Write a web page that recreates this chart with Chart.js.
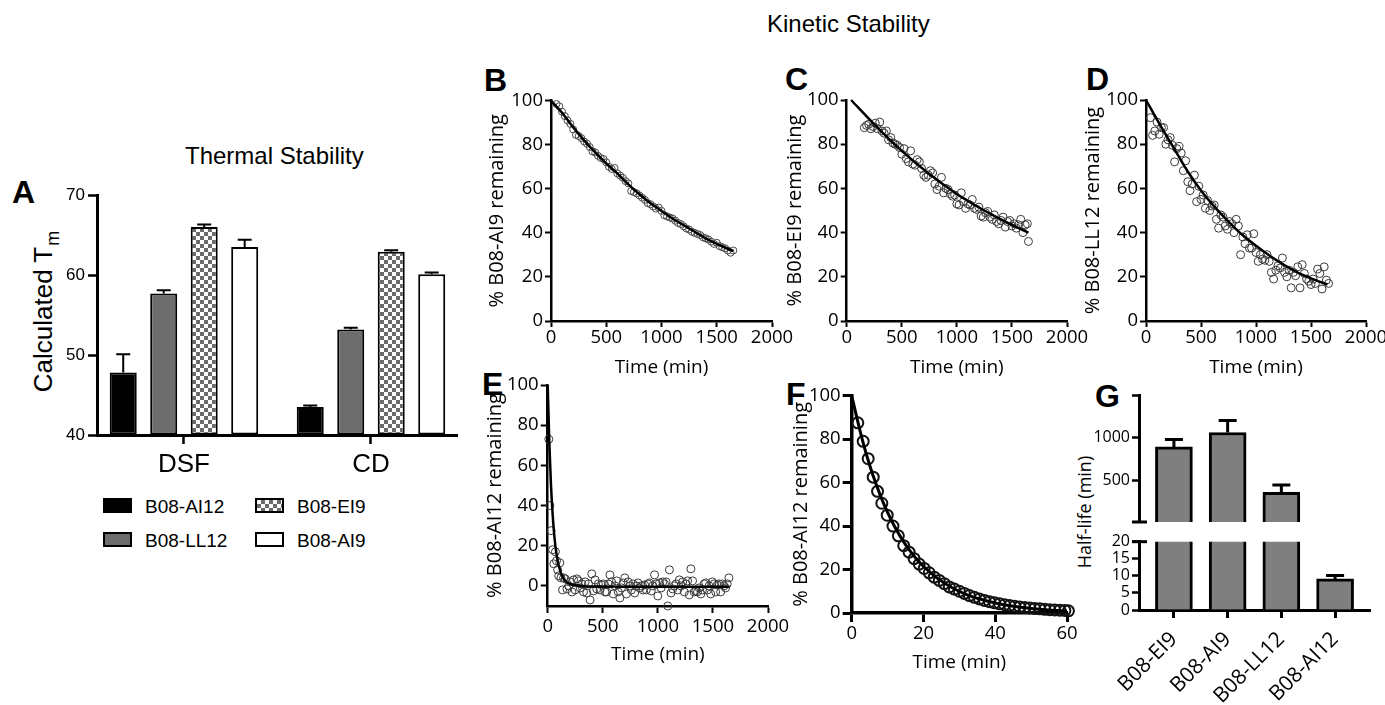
<!DOCTYPE html>
<html><head><meta charset="utf-8">
<script src="https://cdn.jsdelivr.net/npm/chart.js@4.4.1/dist/chart.umd.min.js"></script>
<style>
html,body{margin:0;padding:0;background:#fff;}
body{width:1385px;height:705px;position:relative;overflow:hidden;font-family:"Liberation Sans",Arial,sans-serif;color:#000;}
.t{position:absolute;white-space:nowrap;line-height:1;}
.letter{font-weight:bold;font-size:32px;}
canvas{position:absolute;}
.rot{position:absolute;white-space:nowrap;line-height:1;transform:translate(-50%,-50%) rotate(-90deg);}
.lg{position:absolute;font-size:19px;line-height:1;white-space:nowrap;}
.sw{position:absolute;box-sizing:border-box;border:2px solid #000;width:29px;height:15px;}
</style></head><body>
<div class="t letter" style="left:12px;top:176px">A</div>
<div class="t letter" style="left:484px;top:64px">B</div>
<div class="t letter" style="left:785px;top:63px">C</div>
<div class="t letter" style="left:1086px;top:63px">D</div>
<div class="t letter" style="left:482px;top:368px">E</div>
<div class="t letter" style="left:786px;top:378px">F</div>
<div class="t letter" style="left:1095px;top:380px">G</div>
<div class="t" style="left:185px;top:144px;font-size:24px">Thermal Stability</div>
<div class="t" style="left:767px;top:12px;font-size:24px">Kinetic Stability</div>
<div class="rot" style="left:43px;top:312px;font-size:26px">Calculated T<span style="font-size:18px;position:relative;top:7px;left:1px">m</span></div>
<div class="rot" style="left:1084px;top:512px;font-size:18px;font-family:'Open Sans',sans-serif">Half-life (min)</div>
<div id="legendA"></div>
<script>
// ================= DATA =================
// Panel A – thermal stability
const methodsA = ['DSF', 'CD'];
const variantsA = ['B08-AI12', 'B08-LL12', 'B08-EI9', 'B08-AI9'];
const tmAI12 = [47.8, 43.5];
const tmLL12 = [57.7, 53.2];
const tmEI9  = [66.0, 62.9];
const tmAI9  = [63.5, 60.1];
const errAI12 = [2.3, 0.2];
const errLL12 = [0.4, 0.2];
const errEI9  = [0.3, 0.2];
const errAI9  = [0.9, 0.2];
const ticksA = [40, 50, 60, 70];

// Panel B – B08-AI9
const timeB = [50,75,100,125,150,175,200,225,250,275,300,325,350,375,400,425,450,475,500,525,550,575,600,625,650,675,700,725,750,775,800,825,850,875,900,925,950,975,1000,1025,1050,1075,1100,1125,1150,1175,1200,1225,1250,1275,1300,1325,1350,1375,1400,1425,1450,1475,1500,1525,1550,1575,1600,1625,1650];
const remB = [98.5,97.5,95,93,91,89.5,87,84.5,84,83,81.5,80.5,79,77,76.5,75,74,73.5,72,70,69,69.5,67,66,65,63.5,62.5,59,58.5,58,57,56,55,53.5,53,52,51,51.5,50,48,47.5,47,46.5,45.5,44.5,44,43,42,41.5,40.5,40,39.5,39,38,37.5,37,36,35,35.5,34,33.5,33,32,31,32];
const fitTimeB = [0,100,200,300,400,500,600,700,800,900,1000,1100,1200,1300,1400,1500,1600,1650];
const fitB = [100,94.5,88,82,76.5,71.5,67,62,57.5,53.5,50,46.5,43.5,40.5,37.5,35,32.8,31.8];

// Panel C – B08-EI9
const timeC = [160,180,200,220,240,260,280,300,320,340,360,380,400,420,440,460,480,500,520,540,560,580,600,620,640,660,680,700,720,740,760,780,800,820,840,860,880,900,920,940,960,980,1000,1020,1040,1060,1080,1100,1120,1140,1160,1180,1200,1220,1240,1260,1280,1300,1320,1340,1360,1380,1400,1420,1440,1460,1480,1500,1520,1540,1560,1580,1600,1620,1640,1650];
const remC = [87.5,88.5,89,87,88,89.5,87,90,86,85,86,82,83,80.5,80,79.5,78.5,75.5,78,73.5,72,77,71,70.5,73,72,69,66,65,66,68,67,62,59.5,61,65,58,60,59.5,57.5,56.5,57,53,52.5,58,54,51,53,52.5,55,51,50.5,51.5,47.5,47,49,49.5,47,46,48,45,44,45.5,47,42.5,45,45.5,43,44,42,43.5,46,40,43.5,44,36];
const fitTimeC = [40,250,500,750,1000,1250,1500,1650];
const fitC = [100,89,77,66.5,57.5,50,43.5,40];

// Panel D – B08-LL12
const timeD = [40,60,80,100,120,140,160,180,200,220,240,260,280,300,320,340,360,380,400,420,440,460,480,500,520,540,560,580,600,620,640,660,680,700,720,740,760,780,800,820,840,860,880,900,920,940,960,980,1000,1020,1040,1060,1080,1100,1120,1140,1160,1180,1200,1220,1240,1260,1280,1300,1320,1340,1360,1380,1400,1420,1440,1460,1480,1500,1520,1540,1560,1580,1600,1620,1640,1660];
const remD = [92,84,86,90,84.5,87.5,87.5,80,82,83,79.5,72,78,79,76,68,72.5,63,59,62,66,54,61,55,57,51,54.5,50,52,52.5,46,42,48,47,43,41.5,45,44,40,46,43,30,38,35,39,33,33,39.5,31,27,30,28,27.5,30,27,22,19,23,25,24,28.5,22,20,23,15,22,20.5,24.5,15,25.5,21.5,19,18,16.5,19,17,23.5,21.5,14.5,24.5,18.5,17];
const fitTimeD = [0,125,250,375,500,625,750,875,1000,1125,1250,1375,1500,1650];
const fitD = [100,89,78.5,68,59,51.5,45,39,34,29.5,25.5,22,19.3,16.5];

// Panel E – B08-AI12 (long time course)
const timeE = [10,20,30,45,55,70,80,90,100,110,120,135,145,160,175,190,205,220,235,250,265,280,295,310,325,340,355,370,385,400,415,430,445,460,475,490,505,520,535,550,565,580,595,610,625,640,655,670,685,700,715,730,745,760,775,790,805,820,835,850,865,880,895,910,925,940,955,970,985,1000,1015,1030,1045,1060,1075,1090,1105,1120,1135,1150,1165,1180,1195,1210,1225,1240,1255,1270,1285,1300,1315,1330,1345,1360,1375,1390,1405,1420,1435,1450,1465,1480,1495,1510,1525,1540,1555,1570,1585,1600,1615,1630,1645];
const remE = [73,40,27.5,18,11,17,12.5,8,5,11.5,4,-2,4,3.5,-1.5,0,2,-3,3,-2,3.5,2.5,-1,1,-3,2,-3.5,1,-7,6,-2.5,3,-1.5,1,-2,0.5,1,-3,-3,1,5.5,2,-4,0,2.5,-3,-6,-1,1.5,4,-4,2,0,-2,1,-3.5,0,1.5,-1,0,-2,0.5,-2,1,1.5,-2.5,0,5.5,1,-5,1.5,-1,2,1,2,-10,8,-3.5,-1.5,0,1,-2,3,0,2,-3,1,2.5,-4.5,8.5,2.5,-3,-2.5,-3,-1,-4,-2,1,1.5,-2,0,-4,2,1,-3,0.5,1,-3,1,0,-1,1,4];
const fitTimeE = [0,15,30,50,70,100,140,180,250,350,800,1650];
const fitE = [100,71,50,31.5,19.8,10,4,1.6,0.3,-0.3,-0.4,-0.4];

// Panel F – B08-AI12 (short time course)
const timeF = [1.7,3.2,4.6,6.0,7.2,8.4,9.9,11.5,13.0,14.5,16.0,17.4,18.8,20.2,21.6,23.0,24.4,25.8,27.2,28.6,30.0,31.4,32.8,34.2,35.6,37.0,38.4,39.8,41.2,42.6,44.0,45.4,46.8,48.2,49.6,51.0,52.4,53.8,55.2,56.6,58.0,59.4,60.4];
const remF = [87.5,79,71,62.5,56,50.5,45,40,35.5,31,28,25,22.5,20.5,18.5,16.5,15,13.5,12,11,10,9,8,7.2,6.5,5.8,5.2,4.7,4.2,3.8,3.4,3.1,2.8,2.5,2.3,2.1,1.9,1.7,1.5,1.4,1.3,1.2,1.0];
const fitTimeF = [0,2,4,6,8,10,12,14,16,18,20,24,28,32,36,40,45,50,55,60];
const fitF = [100,86,73.5,63,54,46.3,39.7,34,29.2,25,21.5,15.8,11.6,8.5,6.3,4.6,3.1,2.1,1.4,0.9];

const ticksTime = [0, 500, 1000, 1500, 2000];
const ticksTimeF = [0, 20, 40, 60];
const ticksPct = [0, 20, 40, 60, 80, 100];

// Panel G – half-lives
const variantsG = ['B08-EI9', 'B08-AI9', 'B08-LL12', 'B08-AI12'];
const halfLife = [895, 1063, 365, 9.1];
const halfLifeErr = [85, 140, 85, 1.0];
const ticksGUpper = [500, 1000, 1500];
const ticksGLower = [0, 5, 10, 15, 20];

// ================= RENDERING =================
const FK = '"Open Sans", "DejaVu Sans", sans-serif';
const FA = '"Liberation Sans", Arial, sans-serif';
Chart.defaults.font.family = FK;
Chart.defaults.color = '#000';

function mkCanvas(b) {
  const c = document.createElement('canvas');
  c.width = b.w; c.height = b.h;
  c.style.left = b.l + 'px'; c.style.top = b.t + 'px';
  c.style.width = b.w + 'px'; c.style.height = b.h + 'px';
  document.body.appendChild(c);
  return c;
}
function axisLook(bw, tl, tw) {
  return {
    border: { display: true, color: '#000', width: bw },
    grid: { display: true, drawOnChartArea: false, drawTicks: true, tickLength: tl, tickWidth: tw, tickColor: '#000', color: '#000', offset: false }
  };
}

const errorBarPlugin = {
  id: 'errbars',
  afterDatasetsDraw(chart, args, opts) {
    const ctx = chart.ctx, a = chart.chartArea, ys = chart.scales.y;
    ctx.save();
    ctx.beginPath(); ctx.rect(a.left, a.top - 2, a.right - a.left, a.bottom - a.top + 2); ctx.clip();
    ctx.strokeStyle = '#000'; ctx.lineWidth = opts.width || 2;
    chart.data.datasets.forEach((ds, di) => {
      if (!ds.errors) return;
      const meta = chart.getDatasetMeta(di);
      meta.data.forEach((bar, i) => {
        const v = ds.data[i].y, top = v + ds.errors[i];
        if (v > ys.max || top < ys.min) return;
        const yv = ys.getPixelForValue(v), yt = ys.getPixelForValue(top);
        ctx.beginPath();
        ctx.moveTo(bar.x, yv); ctx.lineTo(bar.x, yt);
        ctx.moveTo(bar.x - opts.cap / 2, yt); ctx.lineTo(bar.x + opts.cap / 2, yt);
        ctx.stroke();
      });
    });
    ctx.restore();
  }
};
const breakPlugin = {
  id: 'axisbreak',
  afterDraw(chart, args, opts) {
    if (!opts || !opts.at) return;
    const ctx = chart.ctx, ys = chart.scales.y, x = chart.chartArea.left;
    const y = ys.getPixelForValue(opts.at === 'min' ? ys.min : ys.max);
    ctx.save(); ctx.strokeStyle = '#000'; ctx.lineWidth = 3;
    ctx.beginPath(); ctx.moveTo(x - 7, y); ctx.lineTo(x + 8, y); ctx.stroke();
    ctx.restore();
  }
};

// ---------- Panel A ----------
(function () {
  const b = { l: 0, t: 180, w: 480, h: 300, ax: 97, pr: 457, pt: 195, pb: 435 };
  const c = mkCanvas(b);
  const pc = document.createElement('canvas'); pc.width = 8; pc.height = 8;
  const g = pc.getContext('2d');
  g.fillStyle = '#fff'; g.fillRect(0, 0, 8, 8);
  g.fillStyle = '#6b6b6b'; g.fillRect(0, 0, 4, 4); g.fillRect(4, 4, 4, 4);
  const checker = c.getContext('2d').createPattern(pc, 'repeat');
  const fills = ['#000000', '#6d6d6d', checker, '#ffffff'];
  const vals = [tmAI12, tmLL12, tmEI9, tmAI9];
  const errs = [errAI12, errLL12, errEI9, errAI9];
  new Chart(c, {
    type: 'bar',
    data: {
      datasets: variantsA.map((name, k) => ({
        label: name,
        data: vals[k].map((v, i) => ({ x: i, y: v })),
        errors: errs[k],
        backgroundColor: fills[k], borderColor: '#000', borderWidth: 2, borderSkipped: false,
        base: ticksA[0], categoryPercentage: 0.866, barPercentage: 0.667
      }))
    },
    plugins: [errorBarPlugin],
    options: {
      responsive: false, animation: false, events: [],
      layout: { padding: { left: 0, top: b.pt - b.t, right: b.l + b.w - b.pr, bottom: 0 } },
      plugins: { legend: { display: false }, tooltip: { enabled: false }, errbars: { width: 2, cap: 14 } },
      scales: {
        x: Object.assign({
          type: 'linear', min: -0.465, max: 1.46, offset: false,
          afterBuildTicks: s => { s.ticks = methodsA.map((m, i) => ({ value: i })); },
          afterFit: s => { s.height = b.t + b.h - b.pb; },
          ticks: { font: { family: FA, size: 26 }, color: '#000', padding: 5, maxRotation: 0, autoSkip: false, callback: v => methodsA[v] }
        }, axisLook(3, 9, 2.5)),
        y: Object.assign({
          min: ticksA[0], max: ticksA[ticksA.length - 1],
          afterBuildTicks: s => { s.ticks = ticksA.map(v => ({ value: v })); },
          afterFit: s => { s.width = b.ax - b.l; },
          ticks: { font: { family: FA, size: 17 }, color: '#000', padding: 3, autoSkip: false, callback: v => String(v) }
        }, axisLook(3, 9, 2.5))
      }
    }
  });
  // legend (column-major, 2x2)
  const lg = document.getElementById('legendA');
  const css = ['background:#000', 'background:#6d6d6d',
    'background:repeating-conic-gradient(#6b6b6b 0 25%, #fff 0 50%) 0 0/8px 8px', 'background:#fff'];
  variantsA.forEach((name, k) => {
    const col = Math.floor(k / 2), row = k % 2;
    const x = 103 + col * 152, y = 498 + row * 34;
    const sw = document.createElement('div'); sw.className = 'sw';
    sw.style.cssText = `left:${x}px;top:${y}px;${css[k]}`;
    lg.appendChild(sw);
    const tx = document.createElement('div'); tx.className = 'lg';
    tx.style.left = (x + 42) + 'px'; tx.style.top = (y - 1) + 'px';
    tx.textContent = name;
    lg.appendChild(tx);
  });
})();

// ---------- Kinetic panels ----------
function kinetic(b, d) {
  const c = mkCanvas(b);
  const lhY = 1.2 * 20, lhX = 1.2 * 19;
  new Chart(c, {
    type: 'scatter',
    data: {
      datasets: [
        { data: d.fx.map((x, i) => ({ x, y: d.fy[i] })), showLine: true, borderColor: '#000', borderWidth: d.lw,
          pointRadius: 0, cubicInterpolationMode: 'monotone', fill: false, clip: false },
        { data: d.x.map((x, i) => ({ x, y: d.y[i] })), showLine: false, pointRadius: d.r,
          pointBorderColor: d.pc, pointBorderWidth: d.pw, pointBackgroundColor: 'rgba(255,255,255,0)', clip: false }
      ]
    },
    options: {
      responsive: false, animation: false, events: [],
      layout: { padding: { left: 0, top: b.pt - b.t, right: b.l + b.w - b.pr, bottom: 0 } },
      plugins: { legend: { display: false }, tooltip: { enabled: false } },
      scales: {
        x: Object.assign({
          type: 'linear', min: d.xt[0], max: d.xt[d.xt.length - 1],
          afterBuildTicks: s => { s.ticks = d.xt.map(v => ({ value: v })); },
          afterFit: s => { s.height = b.t + b.h - b.pb; },
          ticks: { font: { family: FK, size: 18.5 }, color: '#000', padding: d.xpad, maxRotation: 0, autoSkip: false, callback: v => String(v) },
          title: { display: true, text: 'Time (min)', color: '#000', font: { family: FK, size: 19 },
            padding: { top: 0, bottom: b.t + b.h - b.xtc - lhX / 2 } }
        }, axisLook(d.bw, d.tl, d.tw)),
        y: Object.assign({
          type: 'linear', min: d.ymin, max: 100,
          afterBuildTicks: s => { s.ticks = ticksPct.map(v => ({ value: v })); },
          afterFit: s => { s.width = b.ax - b.l; },
          ticks: { font: { family: FK, size: 18.5 }, color: '#000', padding: 2, autoSkip: false, callback: v => String(v) },
          title: { display: true, text: d.title, color: '#000', font: { family: FK, size: 20 },
            padding: { top: b.ytc - b.l - lhY / 2, bottom: 0 } }
        }, axisLook(d.bw, d.tl, d.tw))
      }
    }
  });
}
const thin = { bw: 2.5, tl: 6, tw: 2, lw: 2.5, xpad: 0, ymin: 0, xt: ticksTime };
kinetic({ l: 470, t: 85, w: 330, h: 305, ax: 551, pr: 772, pt: 100.7, pb: 321, ytc: 497, xtc: 368 },
  Object.assign({}, thin, { x: timeB, y: remB, fx: fitTimeB, fy: fitB, r: 3.5, pc: '#4a4a4a', pw: 1, title: '% B08-AI9 remaining' }));
kinetic({ l: 770, t: 85, w: 320, h: 305, ax: 846.7, pr: 1067, pt: 100, pb: 321, ytc: 795, xtc: 368 },
  Object.assign({}, thin, { x: timeC, y: remC, fx: fitTimeC, fy: fitC, r: 4, pc: '#3a3a3a', pw: 1, title: '% B08-EI9 remaining' }));
kinetic({ l: 1068, t: 85, w: 330, h: 305, ax: 1146, pr: 1366, pt: 100, pb: 321, ytc: 1093, xtc: 368 },
  Object.assign({}, thin, { x: timeD, y: remD, fx: fitTimeD, fy: fitD, r: 4, pc: '#3a3a3a', pw: 1, title: '% B08-LL12 remaining' }));
kinetic({ l: 470, t: 370, w: 330, h: 320, ax: 547.7, pr: 768, pt: 385, pb: 606, ytc: 495, xtc: 655 },
  Object.assign({}, thin, { x: timeE, y: remE, fx: fitTimeE, fy: fitE, r: 4, pc: '#3a3a3a', pw: 1, ymin: -10, tl: 7, xpad: 3, title: '% B08-AI12 remaining' }));
kinetic({ l: 770, t: 375, w: 320, h: 315, ax: 851.7, pr: 1067, pt: 395.7, pb: 613, ytc: 801, xtc: 663 },
  { x: timeF, y: remF, fx: fitTimeF, fy: fitF, r: 5.5, pc: '#111', pw: 2, bw: 3.5, tl: 9, tw: 3, lw: 3, xpad: 1, ymin: 0, xt: ticksTimeF, title: '% B08-AI12 remaining' });

// ---------- Panel G (broken axis: two stacked charts) ----------
function gPanel(b, yt, showX, breakAt) {
  const c = mkCanvas(b);
  new Chart(c, {
    type: 'bar',
    data: {
      datasets: [{
        data: halfLife.map((v, i) => ({ x: i, y: v })), errors: halfLifeErr,
        backgroundColor: '#7f7f7f', borderColor: '#000', borderWidth: 3, barThickness: 37, clip: 0
      }]
    },
    plugins: [errorBarPlugin, breakPlugin],
    options: {
      responsive: false, animation: false, events: [],
      layout: { padding: { left: 0, top: b.pt - b.t, right: b.l + b.w - b.pr, bottom: showX ? 0 : b.t + b.h - b.pb } },
      plugins: { legend: { display: false }, tooltip: { enabled: false }, errbars: { width: 3, cap: 18 }, axisbreak: { at: breakAt } },
      scales: {
        x: Object.assign({
          type: 'linear', min: -0.65, max: 3.65, offset: false, display: showX,
          afterBuildTicks: s => { s.ticks = variantsG.map((n, i) => ({ value: i })); },
          afterFit: s => { if (showX) s.height = b.t + b.h - b.pb; },
          ticks: { font: { family: FK, size: 21 }, color: '#000', padding: 9, minRotation: 45, maxRotation: 45, autoSkip: false,
            callback: v => variantsG[v] }
        }, axisLook(3, 8, 3)),
        y: Object.assign({
          type: 'linear', min: b.ymin, max: b.ymax,
          afterBuildTicks: s => { s.ticks = yt.map(v => ({ value: v })); },
          afterFit: s => { s.width = b.ax - b.l; },
          ticks: { font: { family: FK, size: 16 }, color: '#000', padding: 2, autoSkip: false,
            callback: v => (v === b.ymax && !showX) ? '' : String(v) }
        }, axisLook(3, 7, 2.5))
      }
    }
  });
}
gPanel({ l: 1060, t: 380, w: 325, h: 156, ax: 1139, pr: 1370, pt: 395, pb: 522, ymin: 20, ymax: 1500 }, ticksGUpper, false, 'min');
gPanel({ l: 1060, t: 528, w: 325, h: 177, ax: 1139, pr: 1370, pt: 541.7, pb: 610, ymin: 0, ymax: 20 }, ticksGLower, true, 'max');
</script>
</body></html>
